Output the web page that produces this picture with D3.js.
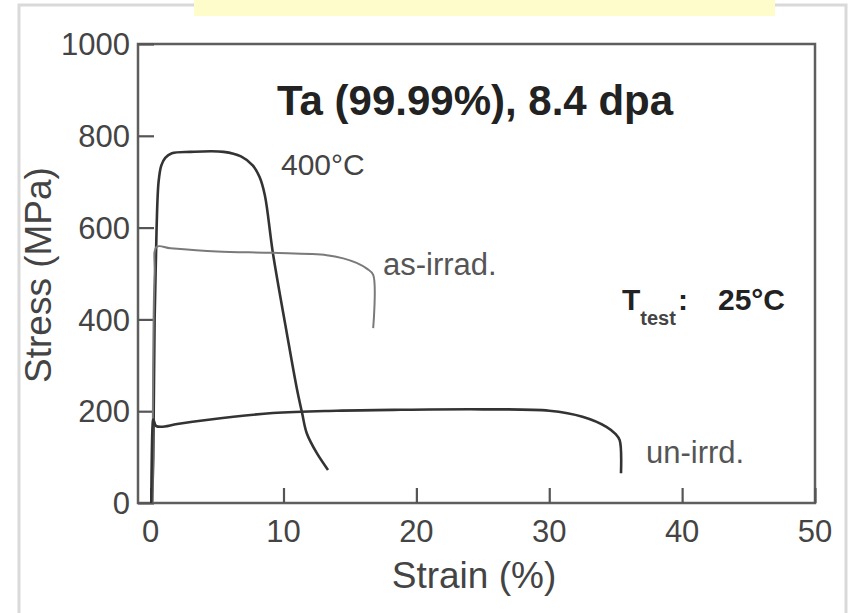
<!DOCTYPE html>
<html>
<head>
<meta charset="utf-8">
<script src="https://cdn.jsdelivr.net/npm/d3@7"></script>
<style>
  body { margin: 0; background: #fff; }
  text { font-family: "Liberation Sans", Arial, sans-serif; }
</style>
</head>
<body>
<svg id="chart" width="848" height="613"></svg>
<script>
// strain (%) / stress (MPa)
var strain400 = [0.1, 0.2, 0.3, 0.45, 0.6, 0.8, 1.1, 1.6, 3, 5.5, 6.8, 7.7, 8.2, 8.6, 9.2, 10.25, 11.0, 11.4, 11.75, 12.5, 13.35];
var stress400 = [0, 100, 400, 600, 700, 735, 752, 762, 765, 765, 755, 735, 710, 670, 545, 370, 250, 196, 152, 109, 72];

var strainIrr = [0.15, 0.3, 0.45, 1.5, 5, 9.2, 13.25, 14.5, 15.5, 16.3, 16.75, 16.75];
var stressIrr = [0, 500, 558, 555, 548, 545, 540, 533, 523, 510, 497, 381];

var strainUn = [0.05, 0.15, 0.2, 0.4, 0.8, 2, 4.2, 9.2, 14, 18.8, 25, 30, 32.5, 34.3, 35.0, 35.3, 35.4];
var stressUn = [0, 170, 182, 168, 166, 172, 181, 196, 201, 203, 204, 201, 188, 166, 150, 137, 65];

var xTicks = [0, 10, 20, 30, 40, 50];
var yTicks = [0, 200, 400, 600, 800, 1000];

var series = [
  { name: "400°C", x: strain400, y: stress400, color: "#333", w: 2.6 },
  { name: "as-irrad.", x: strainIrr, y: stressIrr, color: "#7a7a7a", w: 2 },
  { name: "un-irrd.", x: strainUn, y: stressUn, color: "#333", w: 2.6 }
];

var svg = d3.select("#chart");

// outer light frame + yellow caption box (its text runs off the top)
svg.append("path")
    .attr("d", "M19,613 L19,5 L846,5 L846,613")
    .attr("fill", "none")
    .attr("stroke", "#d9d9d9")
    .attr("stroke-width", 3);
svg.append("rect")
    .attr("x", 194).attr("y", 0).attr("width", 581).attr("height", 16)
    .attr("fill", "#fffccc");
svg.append("text")
    .attr("x", 485).attr("y", -5)
    .attr("text-anchor", "middle")
    .attr("font-size", 26)
    .attr("fill", "#333")
    .text("Tensile tests, Ta irradiated in HFIR (2003)");

var x = d3.scaleLinear().domain([-0.95, 50]).range([138, 815]);
var y = d3.scaleLinear().domain([0, 1000]).range([503, 44]);

// plot frame
svg.append("rect")
    .attr("x", 138).attr("y", 44)
    .attr("width", 815 - 138).attr("height", 503 - 44)
    .attr("fill", "none")
    .attr("stroke", "#5e5e5e")
    .attr("stroke-width", 2.5);

// y axis, ticks inward
var yAxis = svg.append("g")
    .attr("transform", "translate(138,0)")
    .call(d3.axisRight(y).tickValues(yTicks).tickSize(16).tickFormat(""));
yAxis.select(".domain").remove();
yAxis.selectAll("line").attr("stroke", "#555").attr("stroke-width", 2.2);

svg.append("g").selectAll("text")
    .data(yTicks)
    .enter().append("text")
      .attr("x", 130)
      .attr("y", function(d) { return y(d); })
      .attr("dy", "0.36em")
      .attr("text-anchor", "end")
      .attr("font-size", 31)
      .attr("fill", "#444")
      .text(function(d) { return d; });

// x axis, ticks inward
var xAxis = svg.append("g")
    .attr("transform", "translate(0,503)")
    .call(d3.axisTop(x).tickValues(xTicks).tickSize(15).tickFormat(""));
xAxis.select(".domain").remove();
xAxis.selectAll("line").attr("stroke", "#555").attr("stroke-width", 2.2);

svg.append("g").selectAll("text")
    .data(xTicks)
    .enter().append("text")
      .attr("x", function(d) { return x(d); })
      .attr("y", 542)
      .attr("text-anchor", "middle")
      .attr("font-size", 31)
      .attr("fill", "#444")
      .text(function(d) { return d; });

// axis titles
svg.append("text")
    .attr("x", 474).attr("y", 588)
    .attr("text-anchor", "middle")
    .attr("font-size", 37)
    .attr("fill", "#444")
    .text("Strain (%)");
svg.append("text")
    .attr("transform", "translate(51,275) rotate(-90)")
    .attr("text-anchor", "middle")
    .attr("font-size", 37)
    .attr("fill", "#444")
    .text("Stress (MPa)");

// curves
var line = d3.line()
    .x(function(d) { return x(d[0]); })
    .y(function(d) { return y(d[1]); })
    .curve(d3.curveCatmullRom.alpha(0.5));

svg.append("g").selectAll("path")
    .data(series)
    .enter().append("path")
      .attr("d", function(s) { return line(d3.zip(s.x, s.y)); })
      .attr("fill", "none")
      .attr("stroke", function(s) { return s.color; })
      .attr("stroke-width", function(s) { return s.w; })
      .attr("stroke-linejoin", "round");

// annotations
svg.append("text")
    .attr("x", 277).attr("y", 115)
    .attr("font-size", 42)
    .attr("font-weight", "bold")
    .attr("fill", "#222")
    .text("Ta (99.99%), 8.4 dpa");

svg.append("text")
    .attr("x", 281).attr("y", 175)
    .attr("font-size", 30)
    .attr("fill", "#444")
    .text(series[0].name);
svg.append("text")
    .attr("x", 383).attr("y", 275)
    .attr("font-size", 31)
    .attr("fill", "#555")
    .text(series[1].name);
svg.append("text")
    .attr("x", 646).attr("y", 463)
    .attr("font-size", 31)
    .attr("fill", "#555")
    .text(series[2].name);

var tt = svg.append("text")
    .attr("x", 622).attr("y", 310)
    .attr("font-size", 30)
    .attr("font-weight", "bold")
    .attr("fill", "#222");
tt.append("tspan").text("T");
tt.append("tspan").attr("dy", 15).attr("font-size", 20).attr("fill", "#444").text("test");
tt.append("tspan").attr("dy", -15).attr("dx", 2).text(":");
svg.append("text")
    .attr("x", 718).attr("y", 310)
    .attr("font-size", 30)
    .attr("font-weight", "bold")
    .attr("fill", "#222")
    .text("25°C");
</script>
</body>
</html>
